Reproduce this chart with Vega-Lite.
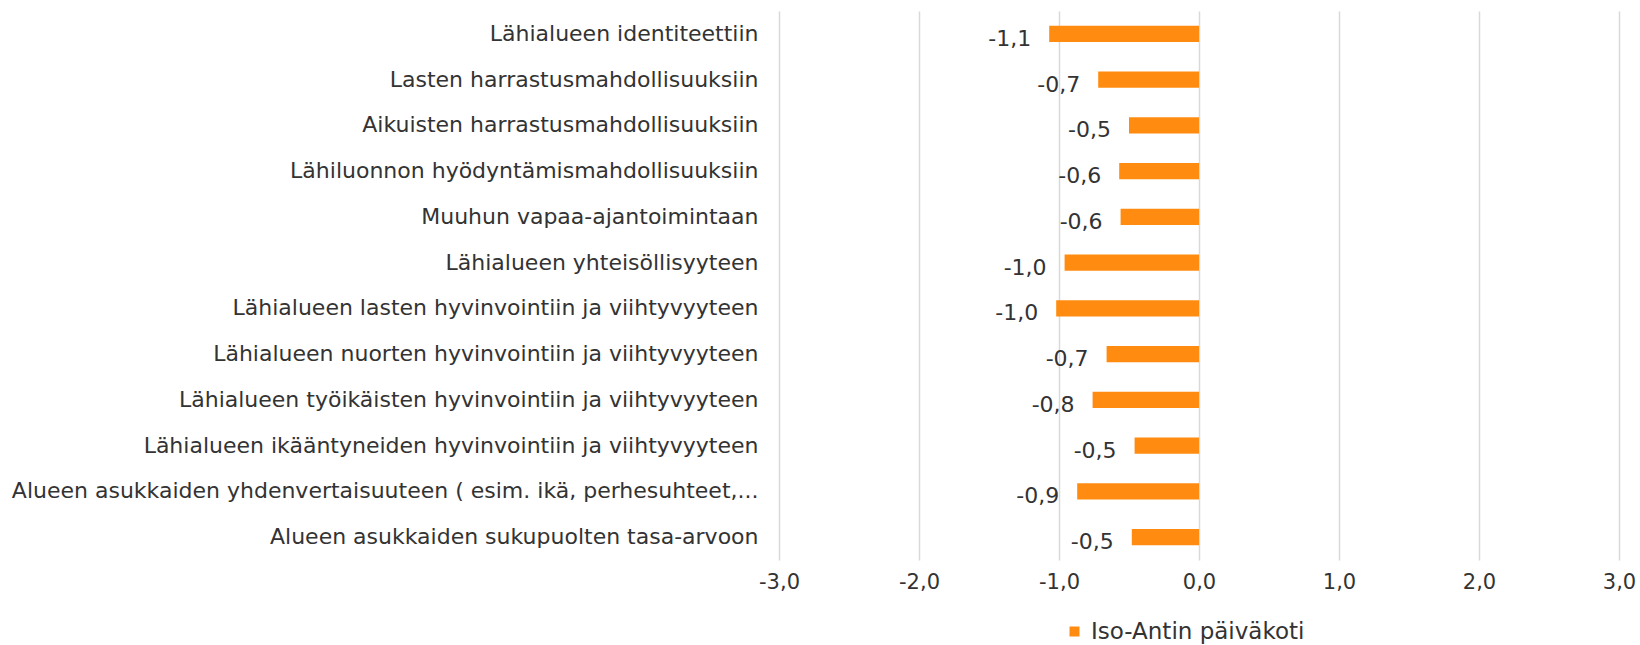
{
  "$schema": "https://vega.github.io/schema/vega-lite/v6.json",
  "autosize": {"type": "none"},
  "width": 840,
  "height": 549,
  "padding": {"left": 779, "top": 11, "right": 21, "bottom": 85},
  "background": "white",
  "config": {
    "locale": {"number": {"decimal": ",", "thousands": "\u00a0", "grouping": [3], "currency": ["", " €"], "minus": "-"}},
    "font": "DejaVu Sans",
    "view": {"stroke": null}
  },
  "data": {
    "values": [
      {"kohde": "Lähialueen identiteettiin", "arvo": -1.07, "sarja": "Iso-Antin päiväkoti"},
      {"kohde": "Lasten harrastusmahdollisuuksiin", "arvo": -0.72, "sarja": "Iso-Antin päiväkoti"},
      {"kohde": "Aikuisten harrastusmahdollisuuksiin", "arvo": -0.5, "sarja": "Iso-Antin päiväkoti"},
      {"kohde": "Lähiluonnon hyödyntämismahdollisuuksiin", "arvo": -0.57, "sarja": "Iso-Antin päiväkoti"},
      {"kohde": "Muuhun vapaa-ajantoimintaan", "arvo": -0.56, "sarja": "Iso-Antin päiväkoti"},
      {"kohde": "Lähialueen yhteisöllisyyteen", "arvo": -0.96, "sarja": "Iso-Antin päiväkoti"},
      {"kohde": "Lähialueen lasten hyvinvointiin ja viihtyvyyteen", "arvo": -1.02, "sarja": "Iso-Antin päiväkoti"},
      {"kohde": "Lähialueen nuorten hyvinvointiin ja viihtyvyyteen", "arvo": -0.66, "sarja": "Iso-Antin päiväkoti"},
      {"kohde": "Lähialueen työikäisten hyvinvointiin ja viihtyvyyteen", "arvo": -0.76, "sarja": "Iso-Antin päiväkoti"},
      {"kohde": "Lähialueen ikääntyneiden hyvinvointiin ja viihtyvyyteen", "arvo": -0.46, "sarja": "Iso-Antin päiväkoti"},
      {"kohde": "Alueen asukkaiden yhdenvertaisuuteen ( esim. ikä, perhesuhteet,...", "arvo": -0.87, "sarja": "Iso-Antin päiväkoti"},
      {"kohde": "Alueen asukkaiden sukupuolten tasa-arvoon", "arvo": -0.48, "sarja": "Iso-Antin päiväkoti"}
    ]
  },
  "encoding": {
    "y": {
      "field": "kohde", "type": "nominal", "sort": null,
      "scale": {"paddingInner": 0.65, "paddingOuter": 0.325},
      "axis": {"title": null, "domain": false, "ticks": false, "labelPadding": 21, "labelFontSize": 22, "labelColor": "#333333", "labelLimit": 900}
    },
    "x": {
      "field": "arvo", "type": "quantitative",
      "scale": {"domain": [-3, 3], "nice": false, "zero": false},
      "axis": {"title": null, "values": [-3, -2, -1, 0, 1, 2, 3], "format": ".1f", "domain": false, "ticks": false, "grid": true, "gridColor": "#D9D9D9", "gridWidth": 1.5, "labelPadding": 11, "labelFontSize": 21, "labelColor": "#333333", "labelFlush": false}
    }
  },
  "layer": [
    {
      "mark": {"type": "bar"},
      "encoding": {
        "color": {
          "field": "sarja", "type": "nominal",
          "scale": {"range": ["#FF8C11"]},
          "legend": {"title": null, "orient": "none", "legendX": 284, "legendY": 609, "direction": "horizontal", "symbolType": "square", "symbolSize": 100, "labelFontSize": 23, "labelColor": "#333333", "labelLimit": 500, "symbolStrokeWidth": 0, "labelOffset": 5}
        }
      }
    },
    {
      "mark": {"type": "text", "align": "right", "baseline": "middle", "dx": -18, "dy": 5, "fontSize": 22, "color": "#333333"},
      "encoding": {"text": {"field": "arvo", "type": "quantitative", "format": ".1f"}}
    }
  ]
}
